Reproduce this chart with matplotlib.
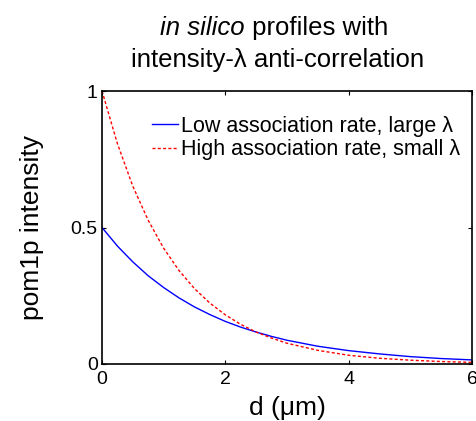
import numpy as np
import matplotlib
matplotlib.use("Agg")
import matplotlib.pyplot as plt

plt.rcParams['font.family'] = ['Liberation Sans', 'DejaVu Sans']

# values
d = [0, 0.25, 0.5, 0.75, 1.0, 1.25, 1.5, 1.75, 2.0, 2.25, 2.5, 2.75,
     3.0, 3.5, 4.0, 4.5, 5.0, 5.5, 6.0]
low_rate = [0.5, 0.432, 0.374, 0.323, 0.280, 0.242, 0.209, 0.181, 0.156,
            0.135, 0.117, 0.101, 0.087, 0.065, 0.049, 0.037, 0.027, 0.020, 0.015]
high_rate = [1.0, 0.807, 0.651, 0.526, 0.424, 0.342, 0.276, 0.223, 0.180,
             0.145, 0.117, 0.095, 0.076, 0.050, 0.032, 0.021, 0.014, 0.009, 0.006]
labels = ["Low association rate, large \u03bb", "High association rate, small \u03bb"]
xticks = [0, 2, 4, 6]
yticks = [0, 0.5, 1]
yticklabels = ["0", "0.5", "1"]

W, H = 477, 421
fig = plt.figure(figsize=(W / 100, H / 100), dpi=100)
ax = fig.add_axes([102 / W, 1 - 364 / H, 370 / W, 273 / H])

ax.plot(d, low_rate, '-', color='blue', lw=1.0, label=labels[0])
ax.plot(d, high_rate, '--', color='red', lw=1.0, dashes=(2.2, 1.6), label=labels[1])

ax.set_xlim(0, 6)
ax.set_ylim(0, 1)
ax.set_xticks(xticks)
ax.set_yticks(yticks)
ax.set_yticklabels(yticklabels)
ax.tick_params(direction='in', top=True, right=True, labelsize=14, length=3, pad=3)
ax.tick_params(axis='x', pad=5)
for s in ax.spines.values():
    s.set_linewidth(1.2)

ax.set_xlabel("d (\u03bcm)", fontsize=19, labelpad=6)
ax.set_ylabel("pom1p intensity", fontsize=19, labelpad=19)

# title, first line mixes italic and upright text
t1 = fig.text(0, 1 - 28 / H, "in silico", style='italic', fontsize=18.5, va='center')
t2 = fig.text(0, 1 - 28 / H, " profiles with", fontsize=18.5, va='center')
fig.text(278 / W, 1 - 60 / H, "intensity-\u03bb anti-correlation", ha='center',
         va='center', fontsize=18.5)
r = fig.canvas.get_renderer()
w1 = t1.get_window_extent(r).width
w2 = t2.get_window_extent(r).width
x0 = 274 - (w1 + w2) / 2
t1.set_x(x0 / W)
t2.set_x((x0 + w1) / W)

ax.legend(loc='upper left', frameon=False, fontsize=15.5, handlelength=1.2,
          handletextpad=0.15, borderpad=0, borderaxespad=0, labelspacing=0.12,
          bbox_to_anchor=(50 / 370, 0.91))

fig.savefig("out.png", dpi=100)
